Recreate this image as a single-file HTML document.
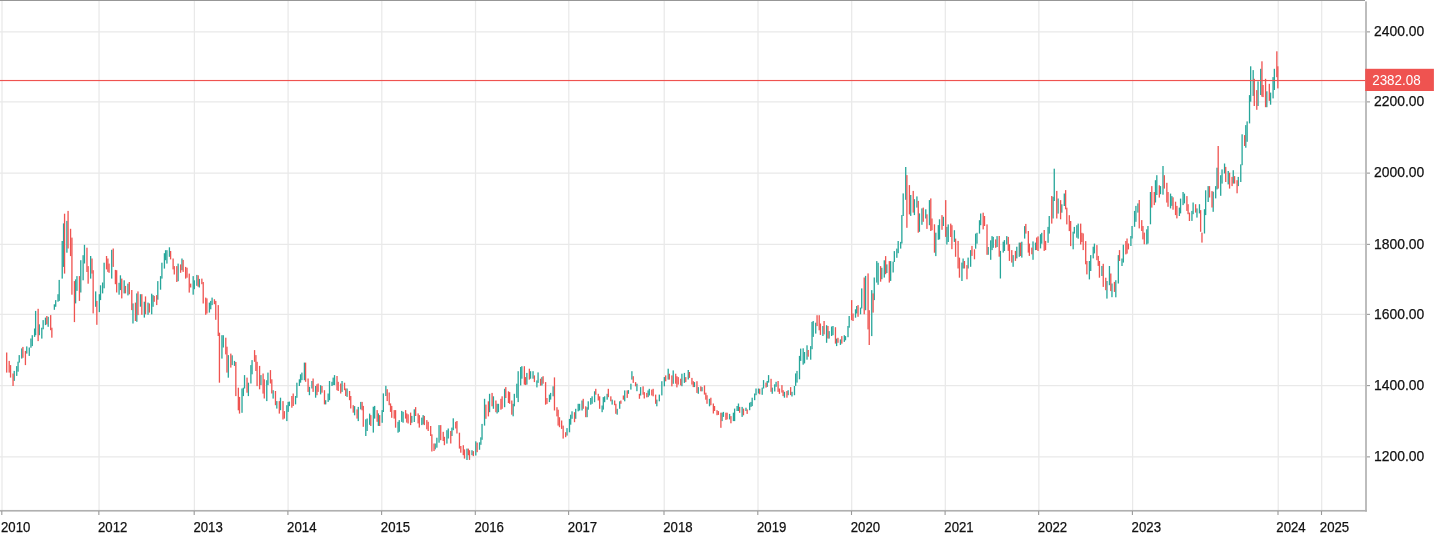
<!DOCTYPE html>
<html lang="en"><head><meta charset="utf-8"><title>Chart</title>
<style>html,body{margin:0;padding:0;background:#fff;overflow:hidden}svg{display:block}</style>
</head><body>
<svg width="1435" height="540" viewBox="0 0 1435 540">
<rect width="1435" height="540" fill="#fff"/>
<g fill="#e9e9e9"><rect x="1.38" y="0" width="1.25" height="511" /><rect x="98.43" y="0" width="1.25" height="511" /><rect x="193.78" y="0" width="1.25" height="511" /><rect x="287.48" y="0" width="1.25" height="511" /><rect x="381.18" y="0" width="1.25" height="511" /><rect x="474.88" y="0" width="1.25" height="511" /><rect x="568.18" y="0" width="1.25" height="511" /><rect x="663.58" y="0" width="1.25" height="511" /><rect x="757.38" y="0" width="1.25" height="511" /><rect x="851.08" y="0" width="1.25" height="511" /><rect x="944.68" y="0" width="1.25" height="511" /><rect x="1038.23" y="0" width="1.25" height="511" /><rect x="1131.98" y="0" width="1.25" height="511" /><rect x="1277.58" y="0" width="1.25" height="511" /><rect x="1321.08" y="0" width="1.25" height="511" /><rect x="0" y="31.25" width="1365.5" height="1.25" /><rect x="0" y="101.25" width="1365.5" height="1.25" /><rect x="0" y="172.50" width="1365.5" height="1.25" /><rect x="0" y="243.75" width="1365.5" height="1.25" /><rect x="0" y="313.75" width="1365.5" height="1.25" /><rect x="0" y="384.98" width="1365.5" height="1.25" /><rect x="0" y="456.25" width="1365.5" height="1.25" /></g>
<g fill="#26a69a"><rect x="13.57" y="370.9" width="1.3" height="10.0"/><rect x="16.08" y="366.1" width="1.3" height="9.8"/><rect x="17.41" y="361.7" width="1.3" height="10.0"/><rect x="18.58" y="355.1" width="1.3" height="7.5"/><rect x="21.09" y="348.4" width="1.3" height="10.2"/><rect x="26.11" y="346.4" width="1.3" height="7.2"/><rect x="28.62" y="347.5" width="1.3" height="8.4"/><rect x="30.29" y="338.5" width="1.3" height="9.2"/><rect x="31.63" y="335.2" width="1.3" height="10.9"/><rect x="33.97" y="328.5" width="1.3" height="8.4"/><rect x="34.97" y="310.9" width="1.3" height="24.3"/><rect x="38.65" y="324.3" width="1.3" height="10.9"/><rect x="41.16" y="327.7" width="1.3" height="10.9"/><rect x="42.50" y="320.1" width="1.3" height="9.2"/><rect x="44.84" y="317.6" width="1.3" height="7.5"/><rect x="47.52" y="316.8" width="1.3" height="10.0"/><rect x="53.71" y="304.3" width="1.3" height="5.5"/><rect x="55.04" y="300.1" width="1.3" height="6.7"/><rect x="57.39" y="294.2" width="1.3" height="7.5"/><rect x="58.56" y="279.9" width="1.3" height="21.0"/><rect x="61.57" y="241.0" width="1.3" height="37.6"/><rect x="62.91" y="223.4" width="1.3" height="43.5"/><rect x="66.25" y="220.9" width="1.3" height="31.8"/><rect x="74.95" y="279.4" width="1.3" height="24.0"/><rect x="76.29" y="276.1" width="1.3" height="14.8"/><rect x="80.13" y="260.2" width="1.3" height="32.3"/><rect x="82.47" y="255.2" width="1.3" height="25.1"/><rect x="83.81" y="244.8" width="1.3" height="18.7"/><rect x="90.00" y="256.0" width="1.3" height="22.6"/><rect x="95.02" y="291.4" width="1.3" height="15.4"/><rect x="98.70" y="294.2" width="1.3" height="17.9"/><rect x="99.87" y="285.3" width="1.3" height="14.8"/><rect x="101.96" y="282.5" width="1.3" height="10.9"/><rect x="103.46" y="262.7" width="1.3" height="25.6"/><rect x="111.07" y="249.8" width="1.3" height="28.8"/><rect x="118.43" y="282.8" width="1.3" height="11.9"/><rect x="119.77" y="275.3" width="1.3" height="14.8"/><rect x="123.53" y="280.3" width="1.3" height="13.1"/><rect x="127.30" y="283.6" width="1.3" height="11.8"/><rect x="132.32" y="303.4" width="1.3" height="20.1"/><rect x="136.16" y="293.4" width="1.3" height="28.4"/><rect x="139.84" y="294.2" width="1.3" height="12.5"/><rect x="143.69" y="301.7" width="1.3" height="15.9"/><rect x="147.37" y="302.6" width="1.3" height="12.2"/><rect x="151.05" y="293.7" width="1.3" height="20.6"/><rect x="152.39" y="295.1" width="1.3" height="11.7"/><rect x="157.15" y="281.1" width="1.3" height="18.6"/><rect x="159.91" y="276.1" width="1.3" height="13.6"/><rect x="161.25" y="262.7" width="1.3" height="15.9"/><rect x="163.76" y="253.2" width="1.3" height="15.4"/><rect x="164.93" y="250.2" width="1.3" height="10.0"/><rect x="166.27" y="250.2" width="1.3" height="13.4"/><rect x="168.78" y="247.3" width="1.3" height="9.5"/><rect x="177.47" y="263.6" width="1.3" height="17.6"/><rect x="181.32" y="258.5" width="1.3" height="11.7"/><rect x="192.53" y="276.1" width="1.3" height="18.6"/><rect x="193.70" y="280.3" width="1.3" height="8.9"/><rect x="196.21" y="274.9" width="1.3" height="10.9"/><rect x="198.71" y="278.9" width="1.3" height="8.6"/><rect x="208.75" y="302.6" width="1.3" height="10.0"/><rect x="210.09" y="300.9" width="1.3" height="8.4"/><rect x="211.43" y="297.6" width="1.3" height="7.5"/><rect x="221.29" y="335.2" width="1.3" height="23.4"/><rect x="222.63" y="335.2" width="1.3" height="12.3"/><rect x="227.65" y="355.1" width="1.3" height="22.6"/><rect x="231.50" y="355.3" width="1.3" height="9.8"/><rect x="233.84" y="360.9" width="1.3" height="5.0"/><rect x="241.37" y="388.5" width="1.3" height="24.3"/><rect x="242.71" y="387.7" width="1.3" height="8.4"/><rect x="243.88" y="375.1" width="1.3" height="13.4"/><rect x="247.73" y="382.7" width="1.3" height="13.4"/><rect x="250.24" y="365.1" width="1.3" height="18.4"/><rect x="251.41" y="360.1" width="1.3" height="14.2"/><rect x="260.27" y="375.1" width="1.3" height="10.0"/><rect x="266.13" y="380.2" width="1.3" height="20.9"/><rect x="267.30" y="372.6" width="1.3" height="12.5"/><rect x="272.48" y="390.2" width="1.3" height="8.4"/><rect x="276.16" y="401.1" width="1.3" height="7.5"/><rect x="279.84" y="397.7" width="1.3" height="12.5"/><rect x="286.20" y="405.2" width="1.3" height="15.9"/><rect x="287.54" y="401.9" width="1.3" height="10.0"/><rect x="288.71" y="401.6" width="1.3" height="4.5"/><rect x="294.90" y="396.0" width="1.3" height="8.4"/><rect x="296.23" y="382.7" width="1.3" height="15.1"/><rect x="298.74" y="379.3" width="1.3" height="6.7"/><rect x="299.91" y="374.3" width="1.3" height="8.4"/><rect x="301.25" y="372.6" width="1.3" height="7.5"/><rect x="303.76" y="362.6" width="1.3" height="17.6"/><rect x="308.78" y="386.8" width="1.3" height="8.4"/><rect x="311.29" y="381.0" width="1.3" height="7.5"/><rect x="314.97" y="386.0" width="1.3" height="11.7"/><rect x="319.98" y="385.2" width="1.3" height="9.2"/><rect x="325.00" y="400.2" width="1.3" height="4.2"/><rect x="327.51" y="393.5" width="1.3" height="8.4"/><rect x="328.85" y="381.0" width="1.3" height="19.2"/><rect x="331.36" y="381.8" width="1.3" height="4.2"/><rect x="332.53" y="377.6" width="1.3" height="7.5"/><rect x="333.86" y="375.1" width="1.3" height="10.0"/><rect x="341.39" y="381.0" width="1.3" height="10.9"/><rect x="346.41" y="388.5" width="1.3" height="8.4"/><rect x="353.94" y="406.1" width="1.3" height="9.2"/><rect x="357.61" y="406.9" width="1.3" height="14.2"/><rect x="360.12" y="401.9" width="1.3" height="7.5"/><rect x="365.14" y="419.3" width="1.3" height="16.7"/><rect x="366.48" y="418.5" width="1.3" height="12.5"/><rect x="368.99" y="413.6" width="1.3" height="11.2"/><rect x="372.67" y="406.7" width="1.3" height="25.9"/><rect x="374.01" y="405.9" width="1.3" height="12.7"/><rect x="377.69" y="413.4" width="1.3" height="12.5"/><rect x="381.53" y="410.1" width="1.3" height="12.7"/><rect x="382.70" y="393.4" width="1.3" height="18.6"/><rect x="385.21" y="385.8" width="1.3" height="10.2"/><rect x="397.42" y="421.8" width="1.3" height="10.9"/><rect x="398.59" y="420.1" width="1.3" height="11.7"/><rect x="401.10" y="410.9" width="1.3" height="11.0"/><rect x="402.44" y="411.8" width="1.3" height="10.9"/><rect x="411.14" y="415.9" width="1.3" height="6.9"/><rect x="413.64" y="409.3" width="1.3" height="12.7"/><rect x="421.17" y="417.6" width="1.3" height="7.5"/><rect x="422.51" y="415.1" width="1.3" height="9.2"/><rect x="434.55" y="443.5" width="1.3" height="5.9"/><rect x="436.22" y="437.7" width="1.3" height="10.0"/><rect x="438.40" y="425.1" width="1.3" height="17.6"/><rect x="446.26" y="430.2" width="1.3" height="13.4"/><rect x="447.60" y="428.5" width="1.3" height="10.0"/><rect x="451.28" y="427.6" width="1.3" height="8.4"/><rect x="452.61" y="418.3" width="1.3" height="11.9"/><rect x="466.33" y="448.6" width="1.3" height="11.4"/><rect x="471.35" y="450.2" width="1.3" height="5.0"/><rect x="475.13" y="441.3" width="1.3" height="14.2"/><rect x="478.88" y="442.3" width="1.3" height="7.5"/><rect x="480.22" y="437.3" width="1.3" height="7.5"/><rect x="481.39" y="423.9" width="1.3" height="15.9"/><rect x="483.90" y="398.8" width="1.3" height="26.8"/><rect x="488.92" y="393.8" width="1.3" height="18.4"/><rect x="492.77" y="396.3" width="1.3" height="12.5"/><rect x="496.44" y="403.8" width="1.3" height="9.7"/><rect x="497.78" y="403.8" width="1.3" height="8.4"/><rect x="503.97" y="388.8" width="1.3" height="18.4"/><rect x="512.50" y="403.8" width="1.3" height="12.5"/><rect x="513.67" y="393.8" width="1.3" height="12.5"/><rect x="516.18" y="383.7" width="1.3" height="14.2"/><rect x="517.52" y="371.2" width="1.3" height="30.9"/><rect x="520.03" y="367.0" width="1.3" height="18.4"/><rect x="521.20" y="366.2" width="1.3" height="12.5"/><rect x="526.22" y="372.9" width="1.3" height="11.7"/><rect x="529.90" y="371.2" width="1.3" height="7.5"/><rect x="532.40" y="371.2" width="1.3" height="7.5"/><rect x="536.25" y="380.4" width="1.3" height="7.0"/><rect x="537.42" y="372.4" width="1.3" height="10.5"/><rect x="541.27" y="377.1" width="1.3" height="8.4"/><rect x="548.79" y="394.6" width="1.3" height="7.5"/><rect x="549.97" y="392.9" width="1.3" height="6.7"/><rect x="552.47" y="386.3" width="1.3" height="10.0"/><rect x="566.36" y="428.1" width="1.3" height="7.5"/><rect x="568.86" y="418.9" width="1.3" height="13.4"/><rect x="570.04" y="414.7" width="1.3" height="10.0"/><rect x="571.37" y="411.3" width="1.3" height="7.5"/><rect x="575.05" y="408.8" width="1.3" height="10.0"/><rect x="577.56" y="403.8" width="1.3" height="7.5"/><rect x="578.90" y="403.8" width="1.3" height="6.7"/><rect x="581.41" y="400.5" width="1.3" height="10.0"/><rect x="586.43" y="407.2" width="1.3" height="10.0"/><rect x="587.60" y="401.3" width="1.3" height="8.4"/><rect x="590.11" y="398.0" width="1.3" height="6.7"/><rect x="591.44" y="396.3" width="1.3" height="7.5"/><rect x="593.95" y="391.3" width="1.3" height="10.9"/><rect x="601.48" y="405.5" width="1.3" height="6.7"/><rect x="602.65" y="397.1" width="1.3" height="12.5"/><rect x="603.99" y="396.3" width="1.3" height="5.9"/><rect x="606.50" y="393.8" width="1.3" height="5.9"/><rect x="611.51" y="399.6" width="1.3" height="5.0"/><rect x="616.53" y="408.8" width="1.3" height="5.9"/><rect x="619.04" y="401.3" width="1.3" height="7.5"/><rect x="624.06" y="390.4" width="1.3" height="10.9"/><rect x="627.74" y="390.1" width="1.3" height="3.7"/><rect x="630.25" y="383.7" width="1.3" height="5.9"/><rect x="631.25" y="371.2" width="1.3" height="8.4"/><rect x="636.27" y="383.7" width="1.3" height="7.5"/><rect x="639.95" y="387.1" width="1.3" height="8.4"/><rect x="647.47" y="390.4" width="1.3" height="6.7"/><rect x="648.64" y="388.8" width="1.3" height="6.7"/><rect x="656.17" y="399.6" width="1.3" height="6.7"/><rect x="658.68" y="394.6" width="1.3" height="6.7"/><rect x="661.19" y="381.2" width="1.3" height="14.2"/><rect x="663.70" y="377.1" width="1.3" height="9.2"/><rect x="667.54" y="368.7" width="1.3" height="10.9"/><rect x="672.56" y="370.4" width="1.3" height="13.4"/><rect x="681.26" y="373.7" width="1.3" height="12.5"/><rect x="683.77" y="372.9" width="1.3" height="10.0"/><rect x="687.61" y="370.0" width="1.3" height="9.5"/><rect x="693.80" y="382.1" width="1.3" height="5.0"/><rect x="697.65" y="387.1" width="1.3" height="6.7"/><rect x="701.33" y="387.1" width="1.3" height="4.2"/><rect x="708.86" y="398.8" width="1.3" height="7.5"/><rect x="721.41" y="412.7" width="1.3" height="8.4"/><rect x="722.75" y="411.9" width="1.3" height="5.0"/><rect x="728.94" y="413.9" width="1.3" height="5.5"/><rect x="732.78" y="412.7" width="1.3" height="8.4"/><rect x="733.95" y="408.6" width="1.3" height="12.5"/><rect x="736.46" y="406.0" width="1.3" height="5.0"/><rect x="737.80" y="403.5" width="1.3" height="7.5"/><rect x="741.48" y="406.9" width="1.3" height="10.0"/><rect x="745.33" y="407.7" width="1.3" height="3.3"/><rect x="749.01" y="402.7" width="1.3" height="7.5"/><rect x="750.34" y="401.9" width="1.3" height="5.0"/><rect x="751.52" y="397.7" width="1.3" height="8.4"/><rect x="754.02" y="393.5" width="1.3" height="6.7"/><rect x="755.36" y="388.5" width="1.3" height="6.7"/><rect x="757.87" y="388.5" width="1.3" height="5.0"/><rect x="761.55" y="387.6" width="1.3" height="7.2"/><rect x="762.89" y="380.1" width="1.3" height="8.4"/><rect x="766.57" y="381.0" width="1.3" height="5.9"/><rect x="767.91" y="375.1" width="1.3" height="7.5"/><rect x="771.59" y="387.6" width="1.3" height="6.2"/><rect x="774.09" y="384.3" width="1.3" height="7.2"/><rect x="775.43" y="381.8" width="1.3" height="5.0"/><rect x="783.79" y="391.8" width="1.3" height="5.9"/><rect x="787.47" y="390.2" width="1.3" height="5.0"/><rect x="791.32" y="391.8" width="1.3" height="4.7"/><rect x="793.83" y="386.0" width="1.3" height="9.2"/><rect x="795.00" y="373.4" width="1.3" height="12.5"/><rect x="796.34" y="370.9" width="1.3" height="11.7"/><rect x="798.85" y="355.9" width="1.3" height="23.4"/><rect x="800.02" y="348.6" width="1.3" height="12.3"/><rect x="802.53" y="348.3" width="1.3" height="16.4"/><rect x="803.86" y="352.0" width="1.3" height="11.4"/><rect x="806.37" y="345.3" width="1.3" height="14.4"/><rect x="810.05" y="346.1" width="1.3" height="13.6"/><rect x="811.39" y="321.9" width="1.3" height="27.3"/><rect x="812.56" y="321.0" width="1.3" height="15.9"/><rect x="815.07" y="322.7" width="1.3" height="10.9"/><rect x="822.26" y="326.0" width="1.3" height="10.0"/><rect x="825.94" y="325.2" width="1.3" height="17.6"/><rect x="828.45" y="331.1" width="1.3" height="7.5"/><rect x="830.96" y="326.5" width="1.3" height="9.5"/><rect x="832.30" y="326.0" width="1.3" height="9.2"/><rect x="835.98" y="338.6" width="1.3" height="7.5"/><rect x="839.82" y="339.4" width="1.3" height="5.5"/><rect x="843.67" y="335.2" width="1.3" height="6.7"/><rect x="844.84" y="336.1" width="1.3" height="4.2"/><rect x="847.35" y="326.0" width="1.3" height="11.2"/><rect x="848.52" y="316.0" width="1.3" height="11.7"/><rect x="854.88" y="309.3" width="1.3" height="8.4"/><rect x="856.05" y="306.0" width="1.3" height="7.5"/><rect x="859.89" y="307.6" width="1.3" height="6.7"/><rect x="861.07" y="288.4" width="1.3" height="20.1"/><rect x="864.91" y="275.9" width="1.3" height="34.3"/><rect x="871.10" y="290.1" width="1.3" height="46.0"/><rect x="873.61" y="277.5" width="1.3" height="22.6"/><rect x="876.12" y="261.1" width="1.3" height="21.5"/><rect x="877.46" y="262.8" width="1.3" height="22.0"/><rect x="881.14" y="267.8" width="1.3" height="11.4"/><rect x="883.64" y="260.3" width="1.3" height="17.3"/><rect x="886.15" y="264.4" width="1.3" height="8.6"/><rect x="890.00" y="261.1" width="1.3" height="19.8"/><rect x="892.51" y="261.6" width="1.3" height="10.9"/><rect x="893.68" y="251.1" width="1.3" height="10.9"/><rect x="896.19" y="248.6" width="1.3" height="9.2"/><rect x="897.53" y="241.0" width="1.3" height="12.2"/><rect x="900.03" y="241.9" width="1.3" height="6.7"/><rect x="901.21" y="215.1" width="1.3" height="28.4"/><rect x="902.54" y="193.4" width="1.3" height="22.6"/><rect x="905.07" y="167.0" width="1.3" height="32.8"/><rect x="910.07" y="195.0" width="1.3" height="20.9"/><rect x="913.75" y="199.2" width="1.3" height="15.9"/><rect x="916.26" y="196.4" width="1.3" height="11.2"/><rect x="918.77" y="213.4" width="1.3" height="18.4"/><rect x="921.28" y="208.4" width="1.3" height="16.4"/><rect x="925.12" y="209.3" width="1.3" height="9.2"/><rect x="928.80" y="200.1" width="1.3" height="25.1"/><rect x="935.16" y="232.7" width="1.3" height="23.4"/><rect x="937.67" y="225.1" width="1.3" height="14.7"/><rect x="938.84" y="219.3" width="1.3" height="20.1"/><rect x="942.68" y="216.8" width="1.3" height="9.2"/><rect x="946.23" y="226.9" width="1.3" height="17.6"/><rect x="947.57" y="224.4" width="1.3" height="17.6"/><rect x="953.76" y="230.2" width="1.3" height="11.7"/><rect x="961.29" y="262.6" width="1.3" height="18.4"/><rect x="962.46" y="258.5" width="1.3" height="10.0"/><rect x="967.47" y="257.6" width="1.3" height="10.9"/><rect x="969.98" y="250.1" width="1.3" height="16.7"/><rect x="975.00" y="233.6" width="1.3" height="15.1"/><rect x="976.34" y="232.8" width="1.3" height="10.9"/><rect x="978.85" y="220.2" width="1.3" height="13.4"/><rect x="980.02" y="213.5" width="1.3" height="11.7"/><rect x="987.54" y="247.0" width="1.3" height="7.8"/><rect x="990.05" y="240.3" width="1.3" height="19.5"/><rect x="991.39" y="236.1" width="1.3" height="14.0"/><rect x="992.56" y="236.9" width="1.3" height="10.9"/><rect x="996.41" y="236.1" width="1.3" height="10.9"/><rect x="999.75" y="250.9" width="1.3" height="27.6"/><rect x="1002.60" y="241.7" width="1.3" height="10.9"/><rect x="1003.77" y="240.1" width="1.3" height="10.9"/><rect x="1006.11" y="236.1" width="1.3" height="8.4"/><rect x="1012.47" y="255.1" width="1.3" height="11.7"/><rect x="1016.14" y="246.7" width="1.3" height="11.7"/><rect x="1018.65" y="242.6" width="1.3" height="14.2"/><rect x="1021.16" y="241.7" width="1.3" height="15.9"/><rect x="1024.01" y="226.1" width="1.3" height="12.5"/><rect x="1032.37" y="241.4" width="1.3" height="18.4"/><rect x="1034.88" y="242.6" width="1.3" height="7.5"/><rect x="1039.89" y="234.2" width="1.3" height="14.2"/><rect x="1041.07" y="232.8" width="1.3" height="10.9"/><rect x="1047.42" y="226.9" width="1.3" height="15.9"/><rect x="1048.59" y="216.0" width="1.3" height="17.6"/><rect x="1052.44" y="196.8" width="1.3" height="21.7"/><rect x="1053.61" y="168.7" width="1.3" height="32.3"/><rect x="1057.46" y="198.5" width="1.3" height="15.1"/><rect x="1061.14" y="204.3" width="1.3" height="8.4"/><rect x="1063.64" y="193.5" width="1.3" height="12.5"/><rect x="1072.51" y="231.7" width="1.3" height="17.6"/><rect x="1073.68" y="226.9" width="1.3" height="6.7"/><rect x="1076.19" y="225.2" width="1.3" height="12.5"/><rect x="1077.53" y="223.6" width="1.3" height="15.1"/><rect x="1088.73" y="261.0" width="1.3" height="18.4"/><rect x="1090.07" y="255.1" width="1.3" height="15.9"/><rect x="1092.58" y="246.7" width="1.3" height="11.7"/><rect x="1093.75" y="243.6" width="1.3" height="9.8"/><rect x="1101.28" y="266.0" width="1.3" height="10.0"/><rect x="1106.29" y="281.0" width="1.3" height="17.6"/><rect x="1108.80" y="266.0" width="1.3" height="19.2"/><rect x="1111.31" y="283.5" width="1.3" height="13.7"/><rect x="1115.16" y="280.2" width="1.3" height="17.1"/><rect x="1117.67" y="255.1" width="1.3" height="28.4"/><rect x="1121.35" y="258.5" width="1.3" height="7.5"/><rect x="1122.68" y="244.7" width="1.3" height="17.9"/><rect x="1130.24" y="236.0" width="1.3" height="10.0"/><rect x="1131.41" y="226.0" width="1.3" height="12.5"/><rect x="1133.92" y="210.9" width="1.3" height="15.9"/><rect x="1135.26" y="205.9" width="1.3" height="15.9"/><rect x="1137.26" y="203.4" width="1.3" height="9.2"/><rect x="1146.13" y="229.3" width="1.3" height="15.1"/><rect x="1147.30" y="226.0" width="1.3" height="17.6"/><rect x="1149.81" y="192.0" width="1.3" height="32.3"/><rect x="1154.82" y="180.2" width="1.3" height="22.3"/><rect x="1156.16" y="175.2" width="1.3" height="19.8"/><rect x="1159.84" y="186.1" width="1.3" height="8.1"/><rect x="1162.35" y="166.0" width="1.3" height="28.7"/><rect x="1169.88" y="193.6" width="1.3" height="14.8"/><rect x="1171.22" y="196.1" width="1.3" height="9.8"/><rect x="1178.74" y="207.6" width="1.3" height="8.4"/><rect x="1179.91" y="198.6" width="1.3" height="14.8"/><rect x="1182.42" y="192.0" width="1.3" height="13.1"/><rect x="1183.76" y="193.6" width="1.3" height="9.8"/><rect x="1191.29" y="210.9" width="1.3" height="10.0"/><rect x="1192.46" y="202.5" width="1.3" height="11.7"/><rect x="1196.30" y="208.4" width="1.3" height="9.2"/><rect x="1198.81" y="204.2" width="1.3" height="9.2"/><rect x="1203.83" y="209.2" width="1.3" height="24.3"/><rect x="1205.00" y="190.3" width="1.3" height="24.8"/><rect x="1207.51" y="186.1" width="1.3" height="15.9"/><rect x="1212.53" y="191.7" width="1.3" height="20.1"/><rect x="1215.04" y="186.1" width="1.3" height="12.3"/><rect x="1216.37" y="167.7" width="1.3" height="21.7"/><rect x="1220.05" y="175.2" width="1.3" height="20.6"/><rect x="1221.39" y="169.4" width="1.3" height="14.2"/><rect x="1223.90" y="163.5" width="1.3" height="10.0"/><rect x="1227.58" y="171.0" width="1.3" height="13.4"/><rect x="1232.60" y="170.2" width="1.3" height="13.4"/><rect x="1237.61" y="176.9" width="1.3" height="9.2"/><rect x="1240.12" y="164.4" width="1.3" height="17.6"/><rect x="1241.46" y="134.3" width="1.3" height="30.9"/><rect x="1245.14" y="125.1" width="1.3" height="22.6"/><rect x="1246.48" y="121.4" width="1.3" height="20.4"/><rect x="1248.88" y="95.1" width="1.3" height="28.3"/><rect x="1250.02" y="66.3" width="1.3" height="35.4"/><rect x="1252.53" y="70.1" width="1.3" height="25.8"/><rect x="1257.38" y="81.3" width="1.3" height="24.7"/><rect x="1260.06" y="68.8" width="1.3" height="26.2"/><rect x="1266.16" y="91.3" width="1.3" height="15.9"/><rect x="1269.93" y="92.6" width="1.3" height="12.1"/><rect x="1272.43" y="77.1" width="1.3" height="21.3"/><rect x="1273.69" y="68.8" width="1.3" height="21.2"/></g>
<g fill="#ef5350"><rect x="6.04" y="352.5" width="1.3" height="20.1"/><rect x="8.55" y="360.9" width="1.3" height="11.7"/><rect x="9.89" y="365.1" width="1.3" height="12.5"/><rect x="12.40" y="373.5" width="1.3" height="12.5"/><rect x="22.26" y="346.9" width="1.3" height="10.9"/><rect x="24.77" y="350.9" width="1.3" height="14.2"/><rect x="37.48" y="308.8" width="1.3" height="32.3"/><rect x="46.18" y="316.0" width="1.3" height="8.4"/><rect x="50.03" y="315.1" width="1.3" height="15.1"/><rect x="51.20" y="327.7" width="1.3" height="10.0"/><rect x="63.91" y="213.7" width="1.3" height="59.9"/><rect x="67.42" y="210.9" width="1.3" height="37.6"/><rect x="69.93" y="228.8" width="1.3" height="27.3"/><rect x="71.27" y="237.6" width="1.3" height="57.1"/><rect x="73.78" y="281.1" width="1.3" height="41.0"/><rect x="78.79" y="276.1" width="1.3" height="24.8"/><rect x="86.32" y="247.7" width="1.3" height="24.3"/><rect x="87.49" y="266.1" width="1.3" height="17.6"/><rect x="91.34" y="258.5" width="1.3" height="15.1"/><rect x="92.51" y="270.2" width="1.3" height="43.2"/><rect x="96.19" y="300.9" width="1.3" height="23.9"/><rect x="105.89" y="256.0" width="1.3" height="13.4"/><rect x="107.23" y="258.5" width="1.3" height="13.4"/><rect x="108.40" y="263.6" width="1.3" height="9.2"/><rect x="112.58" y="248.5" width="1.3" height="18.4"/><rect x="114.75" y="269.9" width="1.3" height="14.3"/><rect x="116.01" y="270.2" width="1.3" height="22.3"/><rect x="121.11" y="278.6" width="1.3" height="19.8"/><rect x="124.79" y="285.9" width="1.3" height="7.5"/><rect x="128.64" y="282.0" width="1.3" height="12.3"/><rect x="131.14" y="290.0" width="1.3" height="20.1"/><rect x="134.82" y="302.6" width="1.3" height="18.4"/><rect x="137.33" y="291.4" width="1.3" height="23.7"/><rect x="141.18" y="294.2" width="1.3" height="20.6"/><rect x="144.86" y="296.4" width="1.3" height="17.9"/><rect x="148.71" y="303.4" width="1.3" height="9.2"/><rect x="153.56" y="295.9" width="1.3" height="5.9"/><rect x="156.07" y="295.1" width="1.3" height="10.0"/><rect x="169.95" y="251.0" width="1.3" height="8.4"/><rect x="172.46" y="258.5" width="1.3" height="10.9"/><rect x="173.63" y="266.1" width="1.3" height="8.4"/><rect x="176.14" y="266.1" width="1.3" height="15.9"/><rect x="179.98" y="264.4" width="1.3" height="8.4"/><rect x="182.49" y="259.9" width="1.3" height="12.0"/><rect x="185.00" y="266.9" width="1.3" height="11.7"/><rect x="186.34" y="267.7" width="1.3" height="10.0"/><rect x="188.60" y="273.6" width="1.3" height="19.0"/><rect x="190.02" y="283.6" width="1.3" height="3.9"/><rect x="197.54" y="275.3" width="1.3" height="11.4"/><rect x="201.22" y="278.6" width="1.3" height="5.6"/><rect x="202.56" y="282.0" width="1.3" height="21.5"/><rect x="205.07" y="297.6" width="1.3" height="17.2"/><rect x="206.24" y="298.4" width="1.3" height="15.1"/><rect x="213.77" y="299.2" width="1.3" height="5.0"/><rect x="215.11" y="300.9" width="1.3" height="18.9"/><rect x="217.61" y="305.1" width="1.3" height="30.9"/><rect x="218.78" y="332.7" width="1.3" height="50.0"/><rect x="225.14" y="337.7" width="1.3" height="16.7"/><rect x="226.31" y="346.7" width="1.3" height="25.9"/><rect x="230.16" y="353.6" width="1.3" height="14.0"/><rect x="235.18" y="362.0" width="1.3" height="34.1"/><rect x="237.69" y="387.7" width="1.3" height="22.6"/><rect x="238.86" y="396.9" width="1.3" height="16.7"/><rect x="246.39" y="377.6" width="1.3" height="15.1"/><rect x="253.92" y="350.1" width="1.3" height="11.7"/><rect x="255.26" y="355.1" width="1.3" height="15.9"/><rect x="256.43" y="361.8" width="1.3" height="24.3"/><rect x="258.94" y="365.9" width="1.3" height="23.4"/><rect x="262.45" y="373.5" width="1.3" height="20.1"/><rect x="263.62" y="379.3" width="1.3" height="19.2"/><rect x="269.81" y="370.1" width="1.3" height="13.4"/><rect x="271.15" y="379.3" width="1.3" height="14.2"/><rect x="274.82" y="391.0" width="1.3" height="14.2"/><rect x="278.67" y="401.1" width="1.3" height="12.5"/><rect x="282.35" y="401.1" width="1.3" height="18.4"/><rect x="283.69" y="411.1" width="1.3" height="7.5"/><rect x="291.22" y="396.0" width="1.3" height="11.7"/><rect x="292.55" y="393.5" width="1.3" height="12.5"/><rect x="304.93" y="362.6" width="1.3" height="19.2"/><rect x="307.44" y="378.5" width="1.3" height="13.4"/><rect x="312.46" y="378.5" width="1.3" height="13.4"/><rect x="316.30" y="384.3" width="1.3" height="10.9"/><rect x="317.47" y="383.5" width="1.3" height="8.4"/><rect x="321.32" y="386.0" width="1.3" height="6.7"/><rect x="323.83" y="390.2" width="1.3" height="14.2"/><rect x="336.37" y="376.0" width="1.3" height="14.2"/><rect x="337.54" y="381.8" width="1.3" height="9.2"/><rect x="340.05" y="383.5" width="1.3" height="10.0"/><rect x="343.90" y="382.7" width="1.3" height="7.5"/><rect x="345.07" y="388.5" width="1.3" height="7.5"/><rect x="348.92" y="391.0" width="1.3" height="9.2"/><rect x="350.09" y="396.0" width="1.3" height="12.5"/><rect x="352.60" y="405.2" width="1.3" height="7.5"/><rect x="356.44" y="409.4" width="1.3" height="9.2"/><rect x="361.46" y="401.9" width="1.3" height="8.4"/><rect x="362.63" y="405.9" width="1.3" height="20.9"/><rect x="370.16" y="415.1" width="1.3" height="10.9"/><rect x="376.51" y="410.1" width="1.3" height="11.7"/><rect x="379.02" y="415.1" width="1.3" height="10.9"/><rect x="386.55" y="389.2" width="1.3" height="11.9"/><rect x="388.56" y="392.5" width="1.3" height="12.7"/><rect x="389.89" y="403.4" width="1.3" height="8.5"/><rect x="391.07" y="405.9" width="1.3" height="11.9"/><rect x="393.57" y="410.1" width="1.3" height="8.5"/><rect x="394.91" y="410.1" width="1.3" height="17.6"/><rect x="404.95" y="410.1" width="1.3" height="8.5"/><rect x="406.12" y="413.4" width="1.3" height="9.2"/><rect x="407.46" y="414.3" width="1.3" height="9.2"/><rect x="409.96" y="412.6" width="1.3" height="12.5"/><rect x="414.98" y="407.1" width="1.3" height="8.9"/><rect x="417.49" y="413.4" width="1.3" height="10.0"/><rect x="418.66" y="415.1" width="1.3" height="12.5"/><rect x="423.68" y="415.9" width="1.3" height="9.2"/><rect x="426.19" y="420.1" width="1.3" height="9.2"/><rect x="427.53" y="421.8" width="1.3" height="9.2"/><rect x="430.03" y="426.0" width="1.3" height="10.0"/><rect x="431.21" y="434.3" width="1.3" height="17.2"/><rect x="433.38" y="443.5" width="1.3" height="7.5"/><rect x="440.07" y="425.1" width="1.3" height="15.1"/><rect x="442.58" y="431.8" width="1.3" height="9.2"/><rect x="443.75" y="436.8" width="1.3" height="8.4"/><rect x="450.11" y="431.0" width="1.3" height="12.5"/><rect x="455.12" y="421.8" width="1.3" height="6.7"/><rect x="456.29" y="421.0" width="1.3" height="12.5"/><rect x="458.80" y="432.7" width="1.3" height="15.9"/><rect x="460.14" y="446.0" width="1.3" height="6.7"/><rect x="462.65" y="445.2" width="1.3" height="10.0"/><rect x="463.82" y="449.4" width="1.3" height="9.2"/><rect x="467.67" y="448.6" width="1.3" height="6.7"/><rect x="468.84" y="450.2" width="1.3" height="9.7"/><rect x="472.68" y="451.1" width="1.3" height="5.0"/><rect x="476.47" y="442.6" width="1.3" height="9.6"/><rect x="485.24" y="404.6" width="1.3" height="14.2"/><rect x="487.75" y="401.3" width="1.3" height="15.1"/><rect x="491.43" y="392.9" width="1.3" height="13.4"/><rect x="495.27" y="400.5" width="1.3" height="11.7"/><rect x="500.29" y="398.8" width="1.3" height="10.9"/><rect x="501.46" y="396.3" width="1.3" height="12.5"/><rect x="505.14" y="387.1" width="1.3" height="10.9"/><rect x="507.82" y="391.3" width="1.3" height="11.7"/><rect x="508.99" y="392.1" width="1.3" height="11.7"/><rect x="511.16" y="400.5" width="1.3" height="14.2"/><rect x="523.71" y="366.2" width="1.3" height="18.4"/><rect x="524.88" y="377.1" width="1.3" height="8.0"/><rect x="528.72" y="368.7" width="1.3" height="10.9"/><rect x="533.74" y="375.4" width="1.3" height="6.7"/><rect x="539.93" y="378.7" width="1.3" height="7.0"/><rect x="542.44" y="376.2" width="1.3" height="7.5"/><rect x="544.95" y="382.1" width="1.3" height="22.6"/><rect x="546.29" y="398.0" width="1.3" height="5.9"/><rect x="553.81" y="377.4" width="1.3" height="33.1"/><rect x="556.32" y="407.2" width="1.3" height="9.2"/><rect x="557.49" y="409.7" width="1.3" height="15.9"/><rect x="558.83" y="417.2" width="1.3" height="10.0"/><rect x="561.00" y="420.5" width="1.3" height="8.4"/><rect x="562.51" y="425.6" width="1.3" height="13.0"/><rect x="565.02" y="432.2" width="1.3" height="5.0"/><rect x="573.88" y="412.2" width="1.3" height="10.0"/><rect x="582.58" y="398.8" width="1.3" height="10.0"/><rect x="585.09" y="406.3" width="1.3" height="10.9"/><rect x="595.12" y="388.8" width="1.3" height="5.9"/><rect x="597.63" y="393.8" width="1.3" height="6.7"/><rect x="598.97" y="396.3" width="1.3" height="12.5"/><rect x="607.67" y="388.8" width="1.3" height="8.4"/><rect x="610.18" y="396.3" width="1.3" height="5.0"/><rect x="614.02" y="400.5" width="1.3" height="4.7"/><rect x="615.19" y="403.8" width="1.3" height="10.0"/><rect x="620.21" y="400.5" width="1.3" height="3.3"/><rect x="622.72" y="395.5" width="1.3" height="4.2"/><rect x="626.57" y="390.4" width="1.3" height="7.5"/><rect x="632.59" y="376.2" width="1.3" height="6.7"/><rect x="634.93" y="382.1" width="1.3" height="4.2"/><rect x="638.78" y="393.8" width="1.3" height="5.0"/><rect x="642.46" y="386.3" width="1.3" height="8.4"/><rect x="643.63" y="392.1" width="1.3" height="6.4"/><rect x="646.14" y="392.9" width="1.3" height="4.5"/><rect x="651.15" y="389.6" width="1.3" height="5.9"/><rect x="652.49" y="388.8" width="1.3" height="7.5"/><rect x="655.00" y="394.6" width="1.3" height="9.2"/><rect x="665.03" y="375.4" width="1.3" height="5.9"/><rect x="668.71" y="373.7" width="1.3" height="5.9"/><rect x="671.22" y="375.4" width="1.3" height="10.9"/><rect x="675.07" y="373.7" width="1.3" height="10.0"/><rect x="676.24" y="376.2" width="1.3" height="11.2"/><rect x="677.58" y="377.1" width="1.3" height="7.5"/><rect x="680.09" y="378.7" width="1.3" height="6.7"/><rect x="685.11" y="377.1" width="1.3" height="5.0"/><rect x="688.78" y="372.0" width="1.3" height="5.9"/><rect x="691.29" y="377.9" width="1.3" height="6.7"/><rect x="692.63" y="381.2" width="1.3" height="5.9"/><rect x="696.31" y="381.2" width="1.3" height="11.7"/><rect x="700.16" y="386.3" width="1.3" height="5.0"/><rect x="703.84" y="385.4" width="1.3" height="9.2"/><rect x="705.18" y="392.7" width="1.3" height="7.0"/><rect x="706.35" y="395.2" width="1.3" height="8.6"/><rect x="710.20" y="397.7" width="1.3" height="7.5"/><rect x="712.71" y="403.5" width="1.3" height="10.0"/><rect x="713.88" y="406.0" width="1.3" height="5.0"/><rect x="716.39" y="410.2" width="1.3" height="5.0"/><rect x="717.73" y="411.1" width="1.3" height="3.8"/><rect x="720.24" y="412.7" width="1.3" height="15.1"/><rect x="725.26" y="412.7" width="1.3" height="7.2"/><rect x="726.43" y="412.7" width="1.3" height="6.7"/><rect x="730.27" y="416.1" width="1.3" height="7.2"/><rect x="738.97" y="406.9" width="1.3" height="5.9"/><rect x="742.82" y="408.6" width="1.3" height="6.7"/><rect x="746.50" y="409.4" width="1.3" height="4.5"/><rect x="759.04" y="388.8" width="1.3" height="5.5"/><rect x="765.40" y="382.6" width="1.3" height="5.0"/><rect x="770.41" y="378.8" width="1.3" height="13.0"/><rect x="777.44" y="381.0" width="1.3" height="10.9"/><rect x="778.78" y="388.5" width="1.3" height="5.4"/><rect x="781.29" y="385.1" width="1.3" height="7.5"/><rect x="782.46" y="390.2" width="1.3" height="5.9"/><rect x="786.30" y="391.0" width="1.3" height="6.7"/><rect x="789.98" y="387.1" width="1.3" height="8.0"/><rect x="807.54" y="350.0" width="1.3" height="6.7"/><rect x="816.41" y="315.2" width="1.3" height="10.9"/><rect x="818.58" y="315.2" width="1.3" height="15.1"/><rect x="819.75" y="323.5" width="1.3" height="11.4"/><rect x="823.43" y="321.0" width="1.3" height="13.4"/><rect x="827.28" y="326.0" width="1.3" height="12.5"/><rect x="834.81" y="327.2" width="1.3" height="16.4"/><rect x="837.32" y="337.8" width="1.3" height="5.0"/><rect x="841.16" y="336.1" width="1.3" height="7.5"/><rect x="851.03" y="300.1" width="1.3" height="20.1"/><rect x="852.37" y="313.5" width="1.3" height="7.5"/><rect x="857.39" y="305.1" width="1.3" height="11.7"/><rect x="863.57" y="277.5" width="1.3" height="36.8"/><rect x="867.42" y="273.4" width="1.3" height="56.0"/><rect x="868.59" y="310.2" width="1.3" height="34.8"/><rect x="872.44" y="293.4" width="1.3" height="19.2"/><rect x="879.96" y="266.1" width="1.3" height="15.6"/><rect x="884.98" y="256.1" width="1.3" height="18.1"/><rect x="888.66" y="261.1" width="1.3" height="21.5"/><rect x="906.24" y="175.1" width="1.3" height="52.7"/><rect x="908.75" y="185.1" width="1.3" height="29.3"/><rect x="912.58" y="190.9" width="1.3" height="21.7"/><rect x="917.60" y="200.9" width="1.3" height="31.8"/><rect x="922.61" y="207.6" width="1.3" height="14.2"/><rect x="926.29" y="214.3" width="1.3" height="14.6"/><rect x="930.14" y="198.4" width="1.3" height="32.6"/><rect x="931.31" y="218.5" width="1.3" height="11.7"/><rect x="933.82" y="224.3" width="1.3" height="28.4"/><rect x="941.35" y="215.1" width="1.3" height="14.7"/><rect x="945.06" y="200.1" width="1.3" height="36.8"/><rect x="950.08" y="223.6" width="1.3" height="13.4"/><rect x="951.25" y="225.2" width="1.3" height="24.0"/><rect x="954.93" y="238.6" width="1.3" height="18.2"/><rect x="957.44" y="240.9" width="1.3" height="27.6"/><rect x="958.78" y="257.6" width="1.3" height="20.1"/><rect x="963.79" y="261.0" width="1.3" height="7.5"/><rect x="966.30" y="265.1" width="1.3" height="14.2"/><rect x="971.32" y="245.9" width="1.3" height="10.0"/><rect x="973.83" y="249.3" width="1.3" height="10.0"/><rect x="982.53" y="212.7" width="1.3" height="16.7"/><rect x="983.86" y="216.0" width="1.3" height="10.0"/><rect x="986.37" y="224.4" width="1.3" height="30.4"/><rect x="995.07" y="239.4" width="1.3" height="8.4"/><rect x="998.58" y="236.0" width="1.3" height="20.7"/><rect x="1007.61" y="236.9" width="1.3" height="14.0"/><rect x="1008.79" y="244.2" width="1.3" height="16.7"/><rect x="1011.13" y="250.1" width="1.3" height="12.5"/><rect x="1014.81" y="250.9" width="1.3" height="10.0"/><rect x="1019.82" y="242.6" width="1.3" height="13.4"/><rect x="1025.18" y="223.9" width="1.3" height="9.7"/><rect x="1027.69" y="231.0" width="1.3" height="21.6"/><rect x="1028.69" y="243.6" width="1.3" height="12.3"/><rect x="1031.20" y="247.6" width="1.3" height="6.7"/><rect x="1036.05" y="237.5" width="1.3" height="12.5"/><rect x="1037.39" y="236.4" width="1.3" height="14.6"/><rect x="1043.57" y="230.0" width="1.3" height="20.9"/><rect x="1044.91" y="240.9" width="1.3" height="9.2"/><rect x="1051.10" y="196.0" width="1.3" height="27.6"/><rect x="1056.12" y="190.9" width="1.3" height="27.6"/><rect x="1059.96" y="200.1" width="1.3" height="19.2"/><rect x="1064.98" y="190.1" width="1.3" height="19.2"/><rect x="1066.15" y="207.7" width="1.3" height="16.7"/><rect x="1068.66" y="215.2" width="1.3" height="15.9"/><rect x="1070.00" y="221.0" width="1.3" height="25.1"/><rect x="1080.03" y="223.6" width="1.3" height="20.9"/><rect x="1081.21" y="232.8" width="1.3" height="9.2"/><rect x="1082.54" y="233.4" width="1.3" height="16.7"/><rect x="1085.05" y="241.1" width="1.3" height="23.2"/><rect x="1086.22" y="261.0" width="1.3" height="13.4"/><rect x="1096.26" y="245.1" width="1.3" height="15.1"/><rect x="1097.60" y="255.9" width="1.3" height="10.0"/><rect x="1098.77" y="261.0" width="1.3" height="16.7"/><rect x="1102.61" y="263.8" width="1.3" height="23.1"/><rect x="1105.12" y="277.7" width="1.3" height="12.5"/><rect x="1110.14" y="273.5" width="1.3" height="17.6"/><rect x="1113.82" y="281.9" width="1.3" height="10.0"/><rect x="1118.84" y="250.1" width="1.3" height="10.9"/><rect x="1125.22" y="241.0" width="1.3" height="13.4"/><rect x="1126.39" y="238.5" width="1.3" height="15.1"/><rect x="1127.73" y="243.5" width="1.3" height="5.9"/><rect x="1138.60" y="200.0" width="1.3" height="28.4"/><rect x="1141.11" y="220.1" width="1.3" height="10.9"/><rect x="1142.28" y="226.0" width="1.3" height="13.4"/><rect x="1143.62" y="232.6" width="1.3" height="11.7"/><rect x="1151.15" y="186.1" width="1.3" height="21.5"/><rect x="1153.65" y="192.0" width="1.3" height="13.1"/><rect x="1158.67" y="185.3" width="1.3" height="12.3"/><rect x="1163.69" y="175.2" width="1.3" height="13.4"/><rect x="1166.20" y="182.8" width="1.3" height="19.8"/><rect x="1167.37" y="192.0" width="1.3" height="14.8"/><rect x="1172.39" y="197.3" width="1.3" height="12.4"/><rect x="1174.90" y="201.7" width="1.3" height="13.4"/><rect x="1176.23" y="205.9" width="1.3" height="12.5"/><rect x="1186.27" y="196.1" width="1.3" height="14.8"/><rect x="1187.44" y="204.2" width="1.3" height="10.0"/><rect x="1188.78" y="212.6" width="1.3" height="8.4"/><rect x="1194.97" y="204.2" width="1.3" height="8.4"/><rect x="1199.98" y="210.1" width="1.3" height="21.7"/><rect x="1201.32" y="232.6" width="1.3" height="10.0"/><rect x="1208.85" y="186.1" width="1.3" height="11.4"/><rect x="1211.36" y="191.1" width="1.3" height="16.4"/><rect x="1217.54" y="146.0" width="1.3" height="42.6"/><rect x="1225.07" y="166.9" width="1.3" height="15.1"/><rect x="1228.92" y="172.7" width="1.3" height="15.9"/><rect x="1231.43" y="176.9" width="1.3" height="9.2"/><rect x="1233.94" y="176.1" width="1.3" height="7.5"/><rect x="1236.44" y="180.2" width="1.3" height="13.1"/><rect x="1243.97" y="135.1" width="1.3" height="10.9"/><rect x="1253.62" y="78.8" width="1.3" height="27.2"/><rect x="1256.13" y="90.1" width="1.3" height="19.7"/><rect x="1261.31" y="61.3" width="1.3" height="35.4"/><rect x="1262.40" y="85.0" width="1.3" height="12.1"/><rect x="1264.91" y="78.8" width="1.3" height="28.4"/><rect x="1268.67" y="83.8" width="1.3" height="17.1"/><rect x="1276.20" y="51.3" width="1.3" height="25.9"/><rect x="1277.20" y="66.3" width="1.3" height="22.1"/></g>
<rect x="0" y="0" width="1365" height="1" fill="#979797"/>
<rect x="1365.1" y="1.4" width="1.8" height="510.2" fill="#b6b6b6"/>
<rect x="0" y="509.95" width="1366.9" height="1.65" fill="#b0b0b0"/>
<g fill="#9a9a9a"><rect x="1.25" y="511" width="1.1" height="4"/><rect x="98.30" y="511" width="1.1" height="4"/><rect x="193.65" y="511" width="1.1" height="4"/><rect x="287.35" y="511" width="1.1" height="4"/><rect x="381.05" y="511" width="1.1" height="4"/><rect x="474.75" y="511" width="1.1" height="4"/><rect x="568.05" y="511" width="1.1" height="4"/><rect x="663.45" y="511" width="1.1" height="4"/><rect x="757.25" y="511" width="1.1" height="4"/><rect x="850.95" y="511" width="1.1" height="4"/><rect x="944.55" y="511" width="1.1" height="4"/><rect x="1038.10" y="511" width="1.1" height="4"/><rect x="1131.85" y="511" width="1.1" height="4"/><rect x="1277.45" y="511" width="1.1" height="4"/><rect x="1320.95" y="511" width="1.1" height="4"/><rect x="1366.9" y="31.32" width="3.1" height="1.1"/><rect x="1366.9" y="101.33" width="3.1" height="1.1"/><rect x="1366.9" y="172.57" width="3.1" height="1.1"/><rect x="1366.9" y="243.82" width="3.1" height="1.1"/><rect x="1366.9" y="313.82" width="3.1" height="1.1"/><rect x="1366.9" y="385.05" width="3.1" height="1.1"/><rect x="1366.9" y="456.32" width="3.1" height="1.1"/></g>
<g font-family="'Liberation Sans', Arial, sans-serif" font-size="14.5" fill="#111" stroke="#111" stroke-width="0.25">
<text x="1.0" y="532.2" textLength="29.4" lengthAdjust="spacingAndGlyphs">2010</text>
<text x="98.0" y="532.2" textLength="29.4" lengthAdjust="spacingAndGlyphs">2012</text>
<text x="193.4" y="532.2" textLength="29.4" lengthAdjust="spacingAndGlyphs">2013</text>
<text x="287.1" y="532.2" textLength="29.4" lengthAdjust="spacingAndGlyphs">2014</text>
<text x="380.8" y="532.2" textLength="29.4" lengthAdjust="spacingAndGlyphs">2015</text>
<text x="474.5" y="532.2" textLength="29.4" lengthAdjust="spacingAndGlyphs">2016</text>
<text x="567.8" y="532.2" textLength="29.4" lengthAdjust="spacingAndGlyphs">2017</text>
<text x="663.2" y="532.2" textLength="29.4" lengthAdjust="spacingAndGlyphs">2018</text>
<text x="757.0" y="532.2" textLength="29.4" lengthAdjust="spacingAndGlyphs">2019</text>
<text x="850.7" y="532.2" textLength="29.4" lengthAdjust="spacingAndGlyphs">2020</text>
<text x="944.3" y="532.2" textLength="29.4" lengthAdjust="spacingAndGlyphs">2021</text>
<text x="1037.8" y="532.2" textLength="29.4" lengthAdjust="spacingAndGlyphs">2022</text>
<text x="1131.6" y="532.2" textLength="29.4" lengthAdjust="spacingAndGlyphs">2023</text>
<text x="1276.3" y="532.2" textLength="29.4" lengthAdjust="spacingAndGlyphs">2024</text>
<text x="1319.8" y="532.2" textLength="29.4" lengthAdjust="spacingAndGlyphs">2025</text>
 <text x="1374" y="36.1" textLength="50.2" lengthAdjust="spacingAndGlyphs">2400.00</text>
 <text x="1374" y="106.1" textLength="50.2" lengthAdjust="spacingAndGlyphs">2200.00</text>
 <text x="1374" y="177.3" textLength="50.2" lengthAdjust="spacingAndGlyphs">2000.00</text>
 <text x="1374" y="248.6" textLength="50.2" lengthAdjust="spacingAndGlyphs">1800.00</text>
 <text x="1374" y="318.6" textLength="50.2" lengthAdjust="spacingAndGlyphs">1600.00</text>
 <text x="1374" y="389.8" textLength="50.2" lengthAdjust="spacingAndGlyphs">1400.00</text>
 <text x="1374" y="461.1" textLength="50.2" lengthAdjust="spacingAndGlyphs">1200.00</text>
</g>
<rect x="0" y="79.95" width="1365.5" height="1.15" fill="#ef5350"/>
<rect x="1365.2" y="68.8" width="68.7" height="22.2" fill="#ef5350"/>
<text x="1372.2" y="84.8" font-family="'Liberation Sans', Arial, sans-serif" font-size="14.2" fill="#fff" textLength="48.5" lengthAdjust="spacingAndGlyphs">2382.08</text>
</svg>
</body></html>
